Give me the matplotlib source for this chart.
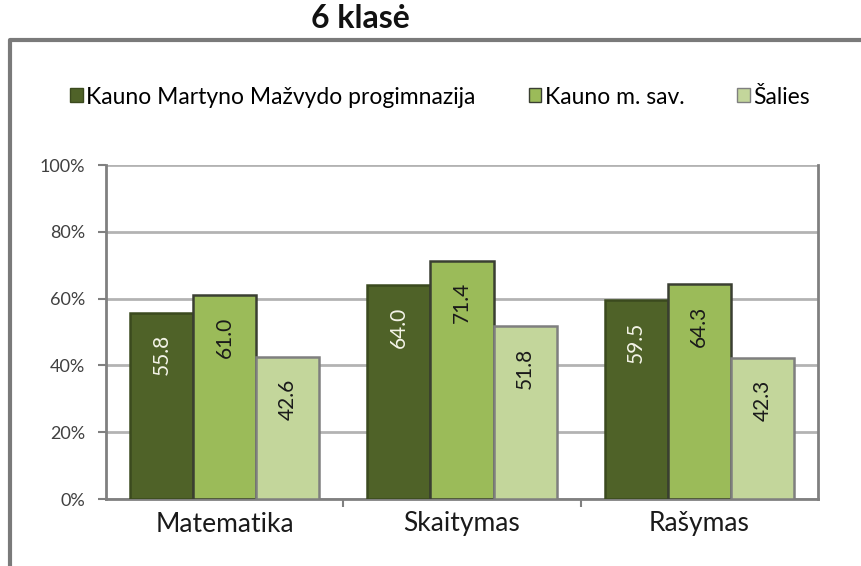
import matplotlib
matplotlib.use("Agg")
import matplotlib.pyplot as plt
import numpy as np
from matplotlib.lines import Line2D
from matplotlib.patches import Patch

plt.rcParams["font.family"] = ["Lato", "DejaVu Sans"]

categories = ["Matematika", "Skaitymas", "Rašymas"]
series = ["Kauno Martyno Mažvydo progimnazija", "Kauno m. sav.", "Šalies"]
school = [55.8, 64.0, 59.5]
city = [61.0, 71.4, 64.3]
country = [42.6, 51.8, 42.3]
yticks = [0, 20, 40, 60, 80, 100]

FACE = ["#4f6228", "#9bbb59", "#c3d69b"]
EDGE = ["#3b4a1e", "#3a3f32", "#7f7f7f"]
TXT = ["#f4f4e8", "#1a1a1a", "#1a1a1a"]

W, H = 861, 566
fig = plt.figure(figsize=(W / 100, H / 100), dpi=100)
ax = fig.add_axes([106 / W, 1 - 499 / H, (818 - 106) / W, (499 - 165) / H])

x = np.arange(len(categories))
bw = 0.266
for k, vals in enumerate([school, city, country]):
    pos = x + (k - 1) * bw
    bars = ax.bar(pos, vals, bw, color=FACE[k], edgecolor=EDGE[k], linewidth=1.8,
                  label=series[k], zorder=3)
    for b, v in zip(bars, vals):
        ax.text(b.get_x() + b.get_width() / 2, v - 6.5, f"{v:.1f}", rotation=90,
                ha="center", va="top", fontsize=15, color=TXT[k], zorder=4)

ax.set_xlim(-0.5, 2.5)
ax.set_ylim(0, 100)
ax.set_yticks(yticks)
ax.set_yticklabels([f"{t}%" for t in yticks], fontsize=13, color="#404040")
ax.set_xticks(x)
ax.set_xticklabels(categories, fontsize=19, color="#1a1a1a")
ax.set_xticks([0.5, 1.5], minor=True)
ax.tick_params(axis="x", which="major", length=0, pad=9)
ax.tick_params(axis="x", which="minor", length=6, width=1.5, color="#808080", direction="out")
ax.tick_params(axis="y", length=6, width=1.5, color="#808080", pad=9)
ax.grid(axis="y", color="#b3b3b3", linewidth=2, zorder=0)
for side in ["left", "right", "bottom"]:
    ax.spines[side].set_color("#808080")
    ax.spines[side].set_linewidth(2)
ax.spines["top"].set_visible(False)

handles = [Patch(facecolor=FACE[k], edgecolor=EDGE[k], label=series[k]) for k in range(3)]
fig.legend(handles=handles, loc="center", bbox_to_anchor=(440 / W, 1 - 97 / H), ncol=3,
           frameon=False, fontsize=16.5, handlelength=0.55, handleheight=0.55,
           handletextpad=0.15, columnspacing=2.3, borderaxespad=0)

fig.text(360 / W, 1 - 18 / H, "6 klasė", ha="center", va="center", fontsize=23,
         fontweight="bold", color="#111111")

fig.add_artist(Line2D([10 / W, 10 / W, 1.0], [0.0, 1 - 40 / H, 1 - 40 / H],
                      transform=fig.transFigure, color="#7a7a7a", linewidth=3))

fig.savefig("out.png", dpi=100)
